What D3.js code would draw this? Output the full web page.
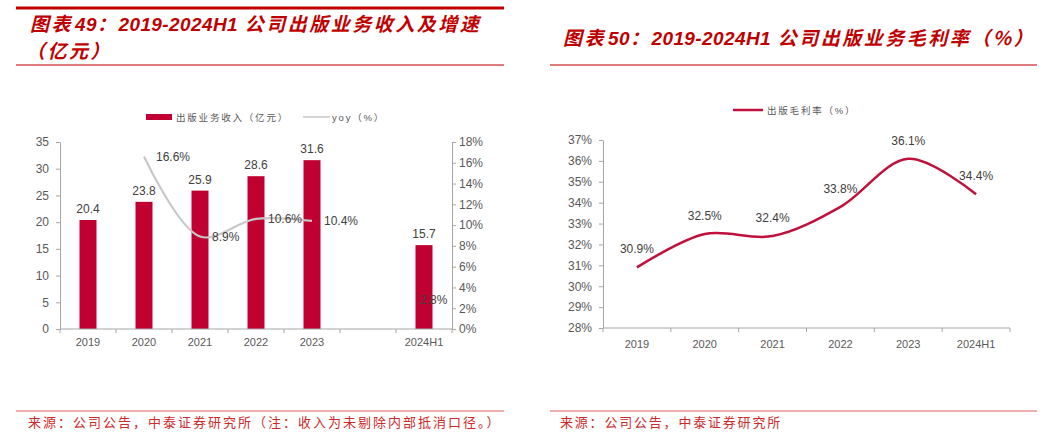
<!DOCTYPE html>
<html>
<head>
<meta charset="utf-8">
<script src="https://cdn.jsdelivr.net/npm/d3@7"></script>
<style>
  body { margin: 0; background: #fff; }
  svg { display: block; }
  text { font-family: "Liberation Sans", Arial, "Noto Sans CJK SC", sans-serif; }
</style>
</head>
<body>
<svg id="chart" width="1047" height="436"></svg>
<script>
// ---------- data ----------
const categories = ["2019", "2020", "2021", "2022", "2023", "2024H1"];
const revenue = [20.4, 23.8, 25.9, 28.6, 31.6, 15.7];          // 出版业务收入（亿元）
const yoy = [null, 16.6, 8.9, 10.6, 10.4, 2.8];                 // yoy（%）
const margin = [30.9, 32.5, 32.4, 33.8, 36.1, 34.4];            // 出版毛利率（%）
const leftTicks = [0, 5, 10, 15, 20, 25, 30, 35];
const rightTicks = [0, 2, 4, 6, 8, 10, 12, 14, 16, 18];
const marginTicks = [28, 29, 30, 31, 32, 33, 34, 35, 36, 37];

const svg = d3.select("#chart");
const RED = "#C00000";
const BAR = "#C00030";
const LINE2 = "#C0103C";
const AXIS = "#A6A6A6";
const TXT = "#595959";
const LBL = "#404040";
const CJK = "'Noto Sans CJK SC', sans-serif";

// ---------- titles / frames ----------
svg.append("line").attr("x1", 16).attr("x2", 504).attr("y1", 8).attr("y2", 8)
  .attr("stroke", RED).attr("stroke-width", 3);
[[16, 504], [550, 1037]].forEach(([a, b]) => {
  svg.append("line").attr("x1", a).attr("x2", b).attr("y1", 65).attr("y2", 65)
    .attr("stroke", "#E07B7B").attr("stroke-width", 2);
  svg.append("line").attr("x1", a).attr("x2", b).attr("y1", 411).attr("y2", 411)
    .attr("stroke", "#E06060").attr("stroke-width", 1.2);
});

function title(x, y, parts) {
  const t = svg.append("text").attr("x", x).attr("y", y)
    .attr("fill", RED).attr("font-size", 19).attr("font-style", "italic");
  parts.forEach(([s, cjk, dx]) => {
    t.append("tspan").text(s).attr("dx", dx || 0)
      .attr("font-family", cjk ? CJK : "'Liberation Sans', Arial, sans-serif")
      .attr("font-weight", "bold")
      .attr("letter-spacing", cjk ? 2.5 : 0.4);
  });
}
title(30, 31, [["图表", 1], ["49", 0, 2], ["：", 1], ["2019-2024H1", 0], [" 公司出版业务收入及增速", 1]]);
title(26, 58, [["（亿元）", 1]]);
title(563, 45, [["图表", 1], ["50", 0, 2], ["：", 1], ["2019-2024H1", 0], [" 公司出版业务毛利率（%）", 1]]);

svg.append("text").attr("x", 28).attr("y", 427).attr("font-family", CJK)
  .attr("font-size", 13).attr("letter-spacing", 2).attr("fill", "#CC2A2A")
  .text("来源：公司公告，中泰证券研究所（注：收入为未剔除内部抵消口径。）");
svg.append("text").attr("x", 560).attr("y", 427).attr("font-family", CJK)
  .attr("font-size", 13).attr("letter-spacing", 1.8).attr("fill", "#CC2A2A")
  .text("来源：公司公告，中泰证券研究所");

// ---------- left chart ----------
const slots = ["2019", "2020", "2021", "2022", "2023", "_gap", "2024H1"];
const xL = d3.scaleBand().domain(slots).range([60, 452]).padding(0);
const yL = d3.scaleLinear().domain([0, 35]).range([329, 142]);
const yR = d3.scaleLinear().domain([0, 18]).range([329, 142]);
const cx = c => xL(c) + xL.bandwidth() / 2;

function styleAxis(g) {
  g.selectAll(".domain").attr("stroke", AXIS);
  g.selectAll(".tick line").attr("stroke", AXIS);
  g.selectAll(".tick text").attr("fill", TXT).attr("font-size", 12)
    .attr("font-family", "'Liberation Sans', Arial, sans-serif");
}

svg.append("g").attr("transform", "translate(60,0)")
  .call(d3.axisLeft(yL).tickValues(leftTicks).tickSize(4).tickPadding(7).tickSizeOuter(0))
  .call(styleAxis);
svg.append("g").attr("transform", "translate(452,0)")
  .call(d3.axisRight(yR).tickValues(rightTicks).tickSize(4).tickPadding(3)
    .tickFormat(d => d + "%").tickSizeOuter(0))
  .call(styleAxis);

function categoryAxis(x, y0, cats, labelY) {
  const g = svg.append("g");
  const [r0, r1] = x.range();
  g.append("line").attr("x1", r0).attr("x2", r1).attr("y1", y0).attr("y2", y0).attr("stroke", AXIS);
  const bounds = x.domain().map(d => x(d)).concat([r1]);
  g.selectAll(".bt").data(bounds).join("line")
    .attr("x1", d => d).attr("x2", d => d).attr("y1", y0).attr("y2", y0 + 4).attr("stroke", AXIS);
  g.selectAll(".cl").data(cats).join("text")
    .attr("x", d => x(d) + x.bandwidth() / 2).attr("y", labelY)
    .attr("text-anchor", "middle").attr("font-size", 11).attr("fill", TXT)
    .text(d => d);
}

// bars
const barW = 17;
svg.append("g").selectAll("rect").data(categories).join("rect")
  .attr("x", d => cx(d) - barW / 2)
  .attr("y", (d, i) => yL(revenue[i]))
  .attr("width", barW)
  .attr("height", (d, i) => yL(0) - yL(revenue[i]))
  .attr("fill", BAR);
svg.append("g").selectAll("text").data(categories).join("text")
  .attr("x", d => cx(d)).attr("y", (d, i) => yL(revenue[i]) - 7)
  .attr("text-anchor", "middle").attr("font-size", 12).attr("fill", LBL)
  .text((d, i) => revenue[i].toFixed(1));

categoryAxis(xL, 329, categories, 346);

// yoy line (2020-2023 connected)
const yoyPts = categories.map((c, i) => ({ c, v: yoy[i] })).filter(d => d.v != null);
const linePts = yoyPts.filter(d => d.c !== "2024H1");
svg.append("path").datum(linePts)
  .attr("d", d3.line().x(d => cx(d.c)).y(d => yR(d.v)).curve(d3.curveCatmullRom))
  .attr("fill", "none").attr("stroke", "#C8C8C8").attr("stroke-width", 2.2);
svg.append("g").selectAll("text").data(yoyPts).join("text")
  .attr("x", d => d.c === "2024H1" ? cx(d.c) - 4 : cx(d.c) + 12)
  .attr("y", d => yR(d.v) + 4)
  .attr("font-size", 12).attr("fill", LBL)
  .text(d => d.v.toFixed(1) + "%");

// legend left
svg.append("rect").attr("x", 146).attr("y", 114).attr("width", 26).attr("height", 6).attr("fill", BAR);
svg.append("text").attr("x", 176).attr("y", 121).attr("font-family", CJK).attr("font-size", 9.5)
  .attr("letter-spacing", 1.8).attr("fill", TXT).text("出版业务收入（亿元）");
svg.append("line").attr("x1", 303).attr("x2", 330).attr("y1", 117).attr("y2", 117)
  .attr("stroke", "#C8C8C8").attr("stroke-width", 1.5);
svg.append("text").attr("x", 332).attr("y", 121).attr("font-family", CJK).attr("font-size", 9.5)
  .attr("letter-spacing", 1.8).attr("fill", TXT).text("yoy（%）");

// ---------- right chart ----------
const x2 = d3.scaleBand().domain(categories).range([603, 1010]).padding(0);
const y2 = d3.scaleLinear().domain([28, 37]).range([328, 140]);
const cx2 = c => x2(c) + x2.bandwidth() / 2;

svg.append("g").attr("transform", "translate(603,0)")
  .call(d3.axisLeft(y2).tickValues(marginTicks).tickSize(4).tickPadding(7)
    .tickFormat(d => d + "%").tickSizeOuter(0))
  .call(styleAxis);
categoryAxis(x2, 328, categories, 348);

svg.append("path").datum(categories.map((c, i) => ({ c, v: margin[i] })))
  .attr("d", d3.line().x(d => cx2(d.c)).y(d => y2(d.v)).curve(d3.curveCatmullRom))
  .attr("fill", "none").attr("stroke", LINE2).attr("stroke-width", 2.5);
svg.append("g").selectAll("text").data(categories).join("text")
  .attr("x", d => cx2(d)).attr("y", (d, i) => y2(margin[i]) - 14)
  .attr("text-anchor", "middle").attr("font-size", 12).attr("fill", LBL)
  .text((d, i) => margin[i].toFixed(1) + "%");

svg.append("line").attr("x1", 733).attr("x2", 763).attr("y1", 110).attr("y2", 110)
  .attr("stroke", LINE2).attr("stroke-width", 2.5);
svg.append("text").attr("x", 767).attr("y", 114).attr("font-family", CJK).attr("font-size", 9.5)
  .attr("letter-spacing", 1.8).attr("fill", TXT).text("出版毛利率（%）");
</script>
</body>
</html>
